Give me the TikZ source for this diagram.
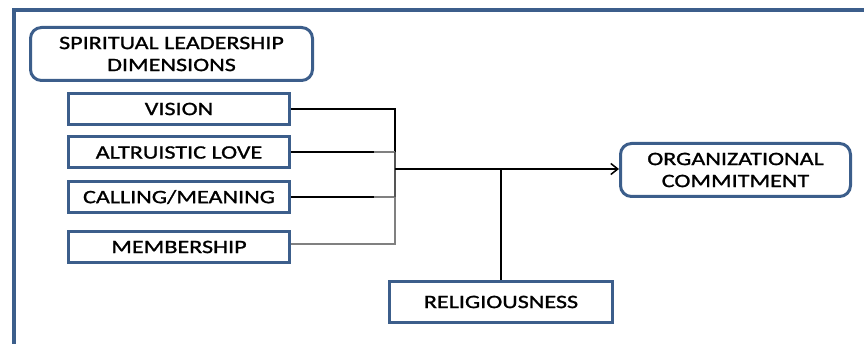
\documentclass[tikz,border=0pt]{standalone}
\usepackage{fontspec}
\setmainfont{Carlito}[FakeStretch=1.27, FakeBold=1.2]
\usepackage{tikz}
\usetikzlibrary{arrows.meta}
\usetikzlibrary{positioning}
\definecolor{frameblue}{RGB}{60,94,139}
\definecolor{wiregrey}{RGB}{128,128,128}
\definecolor{busgrey}{RGB}{85,85,85}
\tikzset{
    dimbox/.style={
           rectangle,
           draw=frameblue, line width=3pt,
           minimum width=221pt,
           minimum height=31pt,
           inner sep=0pt,
           text centered,
           font=\fontsize{19}{22}\selectfont,
           },
    roundbox/.style={
           dimbox,
           rounded corners=11pt,
           align=center,
           },
    wire/.style={black, line width=2pt},
    greywire/.style={wiregrey, line width=2pt},
}
\begin{document}
\begin{tikzpicture}[x=1pt, y=-1pt]
 \useasboundingbox (0,0) rectangle (864,344);

 % outer frame, only the left and the top side show
 \draw[frameblue, line width=4pt] (14,344) -- (14,10) -- (864,10);

 % title box and the four dimensions
 \node[roundbox, minimum width=282pt, minimum height=53pt] (SLD) at (171.5,54)
	{SPIRITUAL LEADERSHIP\\DIMENSIONS};
 \node[dimbox] (VIS) at (179,109) {VISION};
 \node[dimbox] (ALT) at (179,152.5) {ALTRUISTIC LOVE};
 \node[dimbox] (CAL) at (179,197) {CALLING/MEANING};
 \node[dimbox] (MEM) at (179,247) {MEMBERSHIP};

 % outcome and moderator
 \node[roundbox, minimum width=230pt, minimum height=53pt] (ORG) at (735.5,170)
	{ORGANIZATIONAL\\COMMITMENT};
 \node[dimbox, minimum width=223pt, minimum height=41pt] (REL) at (501,302)
	{RELIGIOUSNESS};

 % junction on the vertical bus
 \coordinate (bus) at (395,169);

 \draw[wire] (VIS.east) -| (bus);
 \draw[wire] (ALT.east) -- ([xshift=-21pt]ALT.east -| bus);
 \draw[greywire] ([xshift=-21pt]ALT.east -| bus) -- (ALT.east -| bus);
 \draw[wire] (CAL.east) -- ([xshift=-21pt]CAL.east -| bus);
 \draw[greywire] ([xshift=-21pt]CAL.east -| bus) -- (CAL.east -| bus);
 \draw[greywire] ([yshift=3pt]MEM.east) -| (bus);
 \draw[busgrey, line width=2pt] (CAL.east -| bus) -- (ALT.east -| bus);

 \draw[wire, -{Straight Barb[length=7pt, width=11pt, line width=1.5pt]}]
	(bus) -- (bus -| ORG.west);
 \draw[wire] (REL.north) -- (REL.north |- bus);
\end{tikzpicture}
\end{document}
